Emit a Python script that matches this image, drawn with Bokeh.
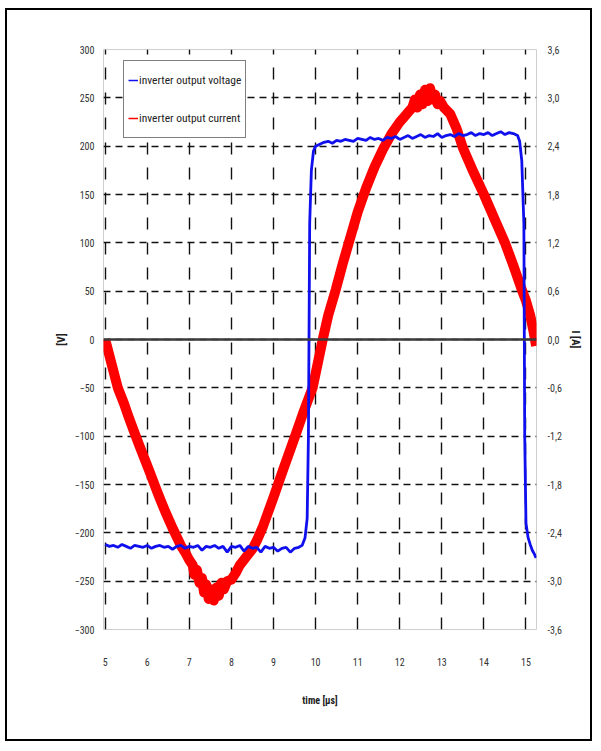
from bokeh.plotting import figure
from bokeh.models import (Range1d, LinearAxis, FixedTicker, CustomJSTickFormatter,
                          Span, Legend, LegendItem)
from bokeh.embed import file_html
from bokeh.resources import INLINE

# ---------------- data ----------------
x_ticks = [5, 6, 7, 8, 9, 10, 11, 12, 13, 14, 15]
v_ticks = [-300, -250, -200, -150, -100, -50, 0, 50, 100, 150, 200, 250, 300]
a_ticks = [-3.6, -3.0, -2.4, -1.8, -1.2, -0.6, 0.0, 0.6, 1.2, 1.8, 2.4, 3.0, 3.6]

# inverter output voltage [V]
volt_t = [5.0, 5.1, 5.2, 5.3, 5.4, 5.5, 5.6, 5.7, 5.8, 5.9,
          6.0, 6.1, 6.2, 6.3, 6.4, 6.5, 6.6, 6.7, 6.8, 6.9,
          7.0, 7.1, 7.2, 7.3, 7.4, 7.5, 7.6, 7.7, 7.8, 7.9,
          8.0, 8.1, 8.2, 8.3, 8.4, 8.5, 8.6, 8.7, 8.8, 8.9,
          9.0, 9.1, 9.2, 9.3, 9.4, 9.5, 9.6, 9.68,
          9.75, 9.8, 9.83, 9.86, 9.9, 9.95, 10.0,
          10.1, 10.2, 10.3, 10.4, 10.5, 10.6, 10.7, 10.8, 10.9, 11.0,
          11.1, 11.2, 11.3, 11.4, 11.5, 11.6, 11.7, 11.8, 11.9, 12.0,
          12.1, 12.2, 12.3, 12.4, 12.5, 12.6, 12.7, 12.8, 12.9, 13.0,
          13.1, 13.2, 13.3, 13.4, 13.5, 13.6, 13.7, 13.8, 13.9, 14.0,
          14.1, 14.2, 14.3, 14.4, 14.5, 14.6, 14.7, 14.8,
          14.85, 14.9, 14.95, 14.97, 15.0, 15.05, 15.1, 15.15, 15.2, 15.24]
volt_v = [-212, -214, -213, -215, -212, -214, -216, -213, -214, -215,
          -213, -216, -214, -213, -215, -214, -217, -214, -213, -216,
          -214, -215, -213, -218, -214, -215, -213, -216, -214, -220,
          -214, -215, -213, -219, -214, -216, -215, -220, -214, -216,
          -215, -219, -216, -215, -220, -216, -215, -213,
          -205, -185, -100, 120, 175, 195, 200,
          202, 204, 205, 203, 206, 205, 207, 206, 205, 208,
          207, 206, 209, 207, 208, 206, 209, 208, 210, 207,
          209, 211, 208, 210, 212, 209, 211, 210, 213, 209,
          211, 212, 210, 213, 211, 212, 214, 211, 213, 212,
          214, 211, 213, 215, 212, 214, 213, 211,
          205, 185, 120, -100, -190, -205, -212, -218, -222, -226]

# inverter output current [A]
cur_t = [5.0, 5.1, 5.2, 5.3, 5.45, 5.55, 5.67, 5.8, 5.95, 6.07,
         6.2, 6.32, 6.43, 6.6, 6.8, 6.9, 7.0, 7.08, 7.12, 7.18,
         7.24, 7.3, 7.35, 7.4, 7.46, 7.52, 7.58, 7.64, 7.7, 7.76,
         7.82, 7.9, 8.0, 8.1, 8.2, 8.35, 8.5, 8.6, 8.75, 9.0,
         9.2, 9.5, 9.7, 9.93, 10.17, 10.3, 10.48, 10.65, 10.8, 11.0,
         11.2, 11.4, 11.6, 11.8, 12.0, 12.1, 12.2, 12.3, 12.36, 12.42, 12.48,
         12.54, 12.6, 12.66, 12.72, 12.78, 12.84, 12.9, 12.96, 13.05, 13.2,
         13.35, 13.5, 13.75, 14.0, 14.25, 14.5, 14.7, 14.9, 15.0, 15.1,
         15.18, 15.24]
cur_a = [0.0, -0.2, -0.4, -0.6, -0.8, -0.95, -1.12, -1.3, -1.5, -1.66,
         -1.84, -2.0, -2.14, -2.34, -2.56, -2.64, -2.74, -2.8, -2.92, -2.86,
         -3.02, -2.96, -3.14, -3.04, -3.22, -3.1, -3.24, -3.08, -3.18, -3.02,
         -3.1, -3.0, -2.98, -2.9, -2.8, -2.7, -2.6, -2.5, -2.32, -1.96,
         -1.66, -1.22, -0.92, -0.6, 0.0, 0.3, 0.62, 0.95, 1.22, 1.58,
         1.88, 2.14, 2.36, 2.55, 2.7, 2.76, 2.82, 2.88, 2.98, 2.88, 3.04,
         2.92, 3.1, 2.96, 3.12, 2.98, 3.04, 2.92, 2.96, 2.88, 2.8,
         2.62, 2.38, 2.08, 1.8, 1.5, 1.2, 0.92, 0.62, 0.48, 0.3,
         0.1, -0.08]

label_font = "'Liberation Sans Narrow', 'Roboto Condensed', 'Liberation Sans', sans-serif"

# ---------------- figure ----------------
p = figure(width=587, height=733,
           x_range=Range1d(4.96, 15.25), y_range=Range1d(-300, 300),
           output_backend="svg", toolbar_location=None,
           min_border_left=96, min_border_right=58,
           min_border_top=39, min_border_bottom=114,
           styles={"border": "2px solid black", "margin-left": "5px",
                   "margin-top": "8px"})
p.background_fill_color = "white"
p.border_fill_color = "white"
p.outline_line_color = "#cfcfcf"
p.outline_line_width = 1

p.extra_y_ranges = {"amps": Range1d(-3.6, 3.6)}

# grids
p.xgrid.ticker = FixedTicker(ticks=x_ticks)
p.xgrid.grid_line_color = "#111111"
p.xgrid.grid_line_width = 1.4
p.xgrid.grid_line_dash = "12 13"
p.ygrid.ticker = FixedTicker(ticks=v_ticks)
p.ygrid.grid_line_color = "#111111"
p.ygrid.grid_line_width = 1.5
p.ygrid.grid_line_dash = "7 5"

# axes
for ax in (p.xaxis[0], p.yaxis[0]):
    ax.axis_line_color = None
    ax.major_tick_line_color = None
    ax.minor_tick_line_color = None
    ax.major_label_text_font = label_font
    ax.major_label_text_font_size = "10px"
    ax.major_label_text_color = "#333333"
    ax.axis_label_text_font = label_font
    ax.axis_label_text_font_style = "bold"
    ax.axis_label_text_color = "#222222"

p.xaxis[0].ticker = FixedTicker(ticks=x_ticks)
p.xaxis[0].major_label_standoff = 22
p.xaxis[0].axis_label = "time [µs]"
p.xaxis[0].axis_label_text_font_size = "10px"
p.xaxis[0].axis_label_standoff = 26

p.yaxis[0].ticker = FixedTicker(ticks=v_ticks)
p.yaxis[0].major_label_standoff = 3
p.yaxis[0].axis_label = "[V]"
p.yaxis[0].axis_label_text_font_size = "11px"
p.yaxis[0].axis_label_standoff = 4

right = LinearAxis(y_range_name="amps", ticker=FixedTicker(ticks=a_ticks),
                   formatter=CustomJSTickFormatter(code="return tick.toFixed(1).replace('.', ',');"),
                   axis_label="I [A]")
right.axis_line_color = None
right.major_tick_line_color = None
right.minor_tick_line_color = None
right.major_label_text_font = label_font
right.major_label_text_font_size = "10px"
right.major_label_text_color = "#333333"
right.major_label_standoff = 5
right.axis_label_text_font = label_font
right.axis_label_text_font_style = "bold"
right.axis_label_text_font_size = "11px"
right.axis_label_text_color = "#222222"
right.axis_label_standoff = 4
p.add_layout(right, "right")

# zero line
p.add_layout(Span(location=0, dimension="width", line_color="#3a3a3a", line_width=2.5))

# data
p.line(cur_t, cur_a, y_range_name="amps", line_color="#ff0000", line_width=10,
       line_join="round")
p.line(volt_t, volt_v, line_color="#1010ee", line_width=2.8)

# legend proxies (thin lines lying outside the visible range)
lv = p.line([0, 1], [0, 0], line_color="#1010ee", line_width=1.5)
lc = p.line([0, 1], [0, 0], line_color="#ff0000", line_width=1.5)
legend = Legend(items=[LegendItem(label="inverter output voltage", renderers=[lv]),
                       LegendItem(label="inverter output current", renderers=[lc])],
                location=(20, 491))
legend.label_text_font = label_font
legend.label_text_font_size = "11.5px"
legend.label_text_color = "#222222"
legend.glyph_width = 10
legend.glyph_height = 30
legend.label_height = 30
legend.label_standoff = 1
legend.spacing = 8
legend.padding = 4
legend.margin = 0
legend.border_line_color = "black"
legend.border_line_width = 1
legend.background_fill_color = "white"
legend.background_fill_alpha = 1
p.add_layout(legend)

open("out.html", "w").write(file_html(p, INLINE))
